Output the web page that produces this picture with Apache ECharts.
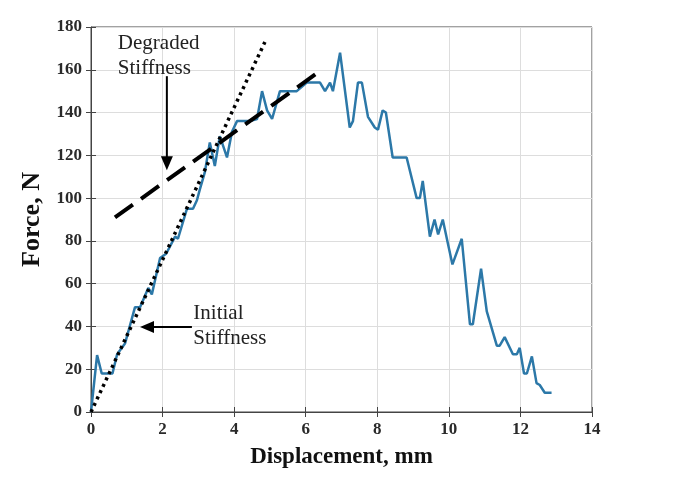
<!DOCTYPE html>
<html lang="en">
<head>
    <meta charset="UTF-8">
    <title>Force vs Displacement</title>
    <script src="https://cdn.jsdelivr.net/npm/echarts@6/dist/echarts.min.js"></script>
    <style>
        html, body { margin: 0; padding: 0; background: #fff; }
        #chart { width: 697px; height: 478px; }
    </style>
</head>
<body>
    <div id="chart"></div>
    <script>
        // measured curve (displacement mm, force N)
        const dispValues = [0, 0.17, 0.3, 0.6, 0.73, 0.95, 1.23, 1.37, 1.5, 1.6, 1.7, 1.93, 2.1, 2.35, 2.43, 2.68, 2.85, 2.96,
            3.04, 3.18, 3.32, 3.46, 3.6, 3.8, 3.94, 4.08, 4.25, 4.44, 4.64, 4.78, 4.92, 5.06, 5.28, 5.75, 6.03, 6.4,
            6.54, 6.68, 6.76, 6.96, 7.23, 7.32, 7.46, 7.57, 7.74, 7.93, 8.02, 8.15, 8.24, 8.43, 8.82, 9.1, 9.19,
            9.27, 9.47, 9.6, 9.7, 9.83, 9.97, 10.1, 10.36, 10.59, 10.67, 10.9, 11.06, 11.34, 11.42, 11.56, 11.79,
            11.9, 11.98, 12.1, 12.18, 12.32, 12.45, 12.54, 12.68, 12.87];
        const forceValues = [0, 26.6, 18, 18, 27, 32, 49, 49, 54, 58, 55, 72, 74, 82, 81, 95, 95, 99,
            104, 112, 126, 115, 129, 119, 131, 136, 136, 136, 137, 150, 141, 137, 150, 150, 154, 154,
            150, 154, 150, 168, 133, 136, 154, 154, 138, 133, 132, 141, 140, 119, 119, 100, 100,
            108, 82, 90, 83, 90, 79, 69, 81, 41, 41, 67, 47, 31, 31, 35, 27,
            27, 30, 18, 18, 26, 13.5, 12.6, 9, 9];

        // stiffness guide lines
        const initialStiffness = [[0, 0], [4.86, 173]];
        const degradedStiffness = [[0.67, 91], [6.45, 160]];

        const xTicks = [0, 2, 4, 6, 8, 10, 12, 14];
        const yTicks = [0, 20, 40, 60, 80, 100, 120, 140, 160, 180];

        const curve = dispValues.map((x, i) => [x, forceValues[i]]);

        const serif = '"Liberation Serif", "DejaVu Serif", serif';
        const chart = echarts.init(document.getElementById('chart'));

        const tickLabel = { fontFamily: serif, fontWeight: 'bold', fontSize: 17, color: '#2a2a2a' };

        chart.setOption({
            animation: false,
            grid: { left: 91, right: 105, top: 27, bottom: 66, show: true, borderColor: '#444', borderWidth: 1 },
            xAxis: [{
                type: 'value', min: xTicks[0], max: xTicks[xTicks.length - 1], interval: 2,
                name: 'Displacement, mm', nameLocation: 'middle', nameGap: 34,
                nameTextStyle: { fontFamily: serif, fontWeight: 'bold', fontSize: 23, color: '#111' },
                axisLine: { lineStyle: { color: '#444' } },
                axisTick: { inside: true, length: 5, lineStyle: { color: '#444' } },
                axisLabel: Object.assign({ margin: 9 }, tickLabel),
                splitLine: { lineStyle: { color: '#ddd' } }
            }, {
                type: 'value', position: 'top', min: 0, max: 14, interval: 2,
                axisLine: { show: false }, axisLabel: { show: false },
                axisTick: { inside: true, length: 5, lineStyle: { color: '#444' } },
                splitLine: { show: false }
            }],
            yAxis: [{
                type: 'value', min: yTicks[0], max: yTicks[yTicks.length - 1], interval: 20,
                name: 'Force, N', nameLocation: 'middle', nameGap: 42,
                nameTextStyle: { fontFamily: serif, fontWeight: 'bold', fontSize: 26, color: '#111' },
                axisLine: { show: true, lineStyle: { color: '#444' } },
                axisTick: { show: true, inside: true, length: 5, lineStyle: { color: '#444' } },
                axisLabel: Object.assign({ margin: 9 }, tickLabel),
                splitLine: { lineStyle: { color: '#ddd' } }
            }, {
                type: 'value', position: 'right', min: 0, max: 180, interval: 20,
                axisLine: { show: false }, axisLabel: { show: false },
                axisTick: { show: true, inside: true, length: 5, lineStyle: { color: '#444' } },
                splitLine: { show: false }
            }],
            series: [{
                type: 'line', data: curve, showSymbol: false,
                lineStyle: { color: '#2c78a8', width: 2.5 }, z: 2
            }, {
                type: 'line', data: initialStiffness, showSymbol: false,
                lineStyle: { color: '#000', width: 3.5, type: [3, 4] }, z: 3
            }, {
                type: 'line', data: degradedStiffness, showSymbol: false,
                lineStyle: { color: '#000', width: 4, type: [22, 10] }, z: 3
            }]
        });

        // annotations placed in data coordinates
        function px(p) { return chart.convertToPixel({ xAxisIndex: 0, yAxisIndex: 0 }, p); }
        const textStyle = { fontFamily: serif, fontSize: 21, fill: '#222', lineHeight: 25 };

        const dTop = px([2.12, 157]);
        const dTip = px([2.12, 113]);
        const iTail = px([2.82, 39.7]);
        const iTip = px([1.37, 39.7]);
        const dText = px([0.75, 178]);
        const iText = px([2.86, 52]);

        chart.setOption({
            graphic: [
                { type: 'text', x: dText[0], y: dText[1], style: Object.assign({ text: 'Degraded\nStiffness' }, textStyle) },
                { type: 'text', x: iText[0], y: iText[1], style: Object.assign({ text: 'Initial\nStiffness' }, textStyle) },
                { type: 'line', shape: { x1: dTop[0], y1: dTop[1], x2: dTip[0], y2: dTip[1] - 12 }, style: { stroke: '#000', lineWidth: 2 } },
                { type: 'polygon', shape: { points: [[dTip[0] - 6, dTip[1] - 14], [dTip[0] + 6, dTip[1] - 14], [dTip[0], dTip[1]]] }, style: { fill: '#000' } },
                { type: 'line', shape: { x1: iTail[0], y1: iTail[1], x2: iTip[0] + 12, y2: iTip[1] }, style: { stroke: '#000', lineWidth: 2 } },
                { type: 'polygon', shape: { points: [[iTip[0] + 14, iTip[1] - 6], [iTip[0] + 14, iTip[1] + 6], [iTip[0], iTip[1]]] }, style: { fill: '#000' } }
            ]
        });
    </script>
</body>
</html>
